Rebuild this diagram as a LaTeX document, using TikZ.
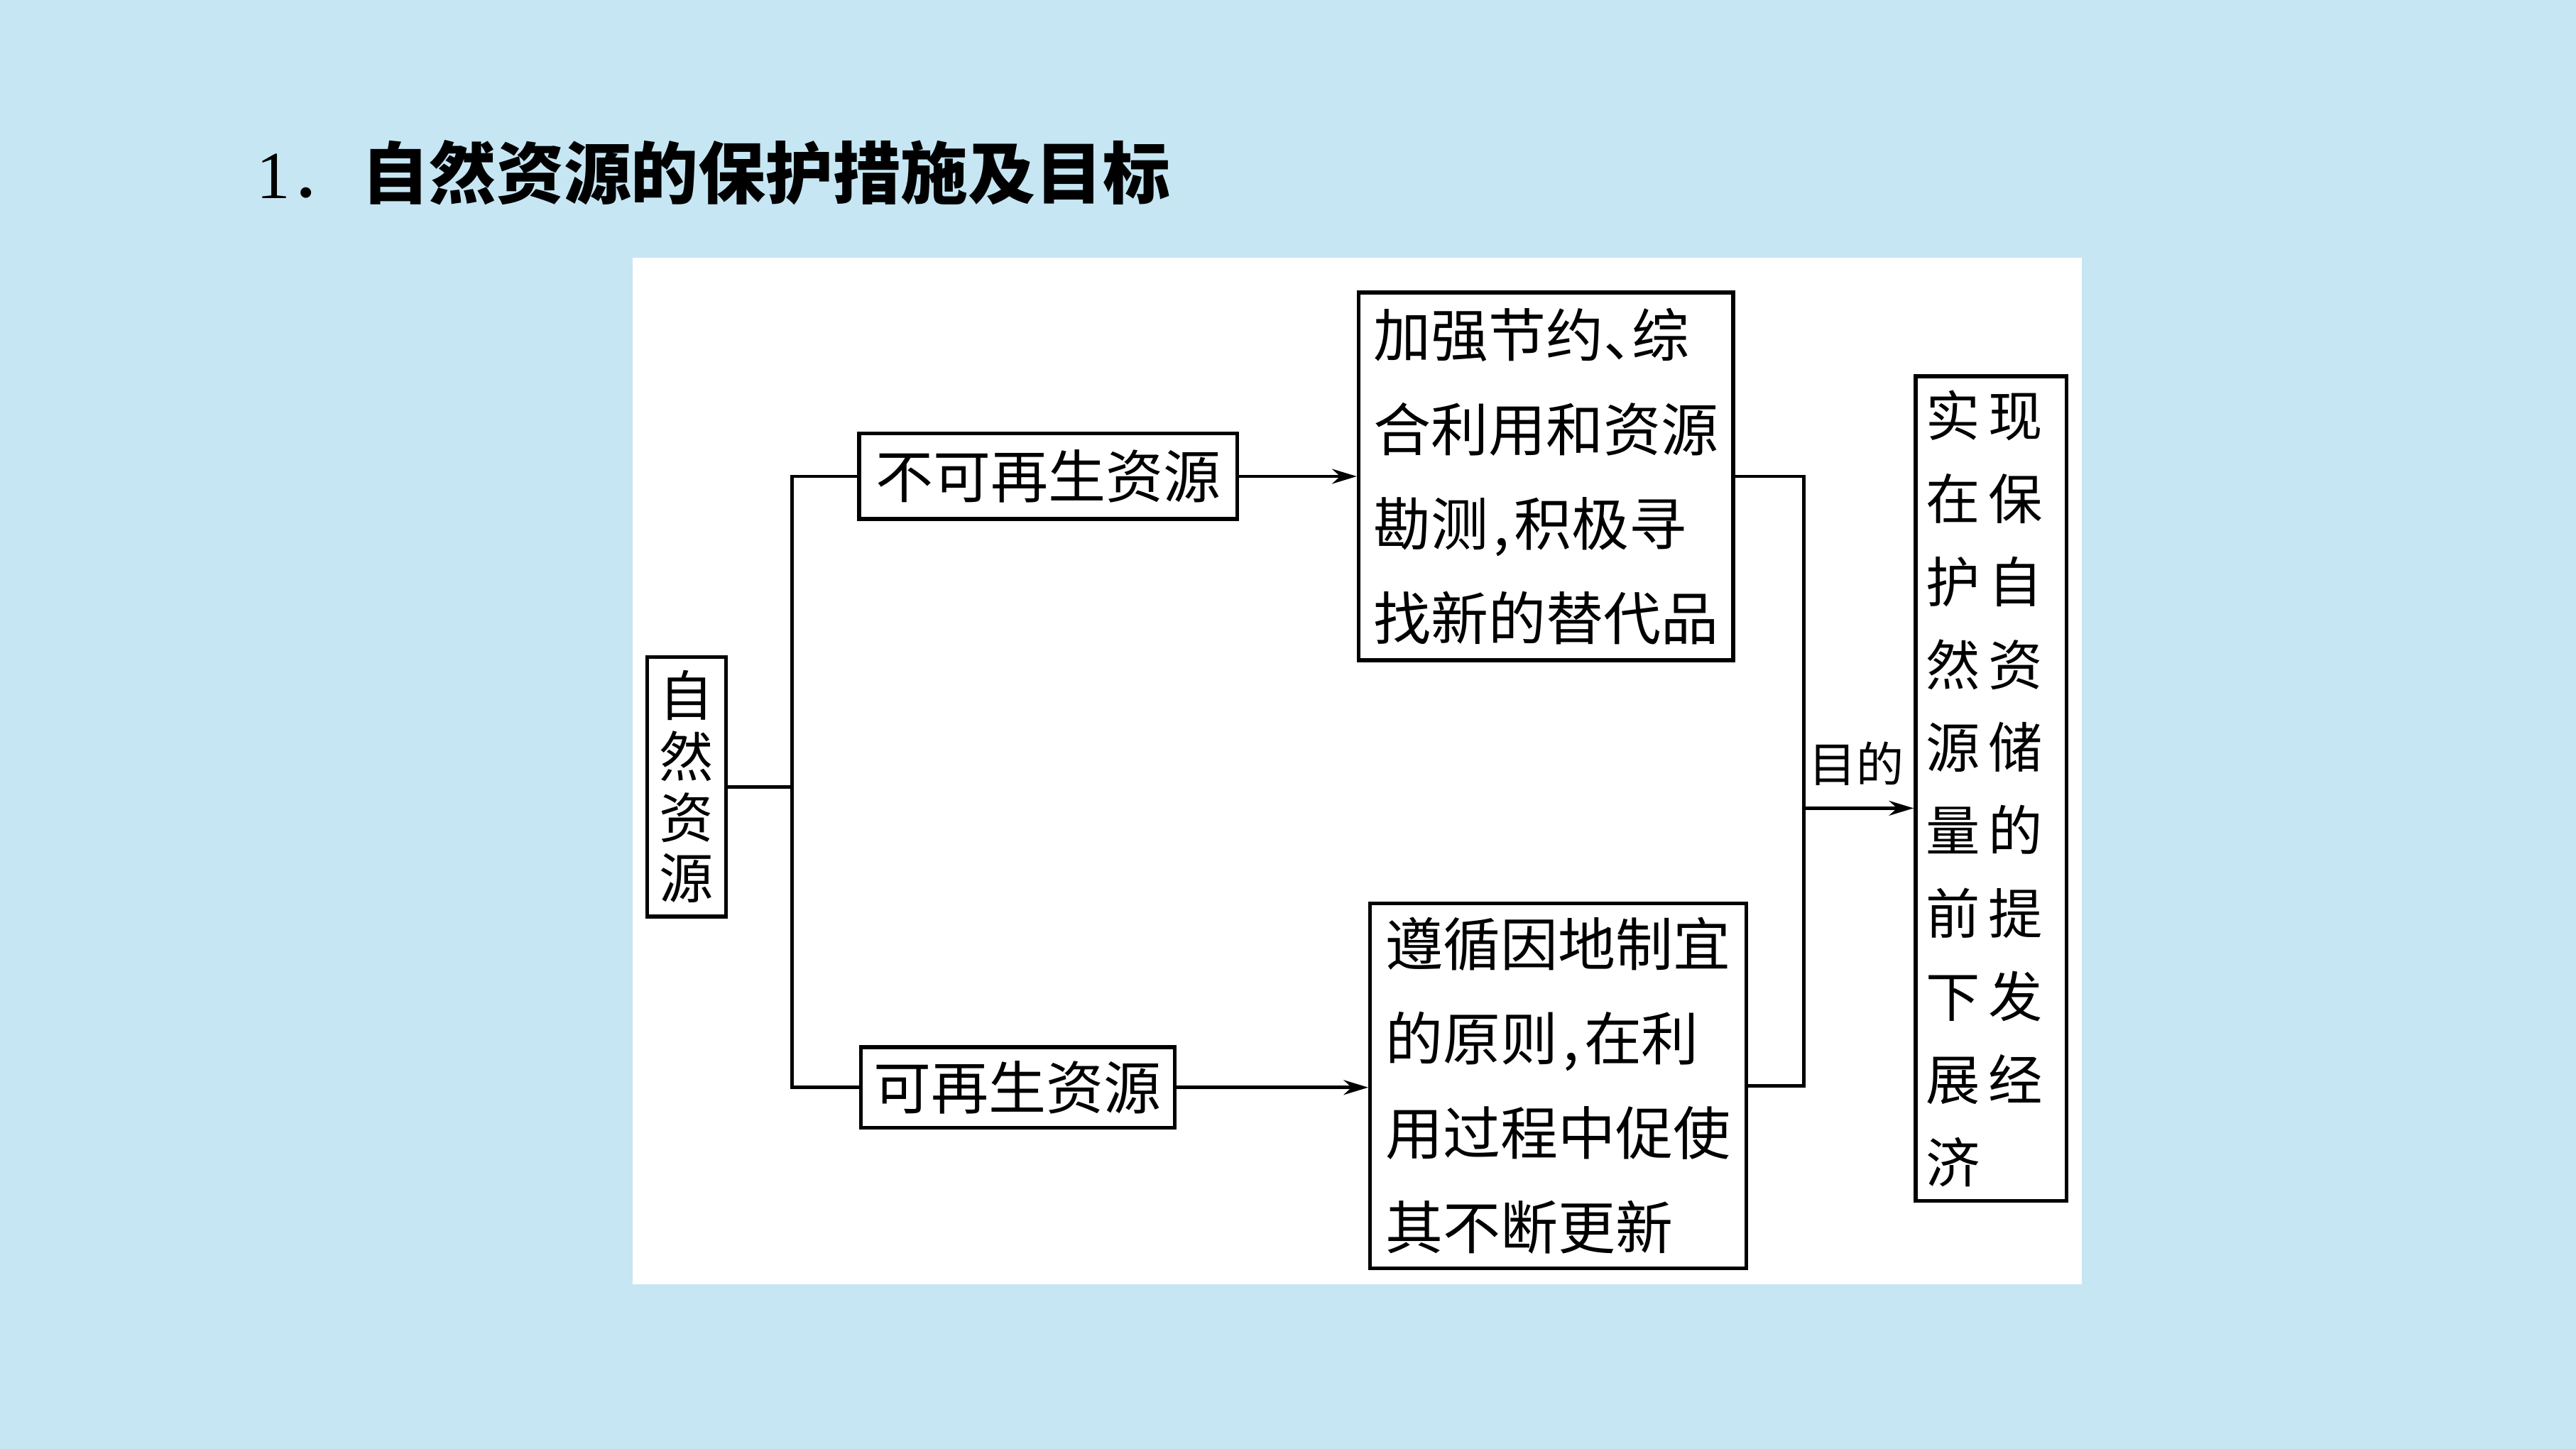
\documentclass[tikz,border=0pt]{standalone}
\usepackage{fontspec}
\setmainfont{Liberation Serif}
\newfontfamily\cjk{Noto Sans CJK SC}
\usetikzlibrary{arrows.meta}
\definecolor{bgblue}{RGB}{198,230,243}
\newcommand\gp{\hspace{5pt}}
\begin{document}
\begin{tikzpicture}[x=1pt,y=-1pt,
  box/.style={draw=black,line width=2.3pt,fill=white,inner sep=0pt},
  conn/.style={line width=2pt},
  arr/.style={line width=2pt,-{Stealth[length=15pt,width=9pt]}},
  txt/.style={font={\cjk\fontsize{35}{57.5}\selectfont}}]
\fill[bgblue] (0,0) rectangle (1568,882);
\useasboundingbox (0,0) rectangle (1568,882);
\fill[white] (385,157) rectangle (1267,782);
\node[anchor=west,inner sep=0pt,font={\cjk\fontsize{41}{48}\selectfont}] (title) at (156,105) {{\rmfamily 1}．\hspace{2.5pt}\bfseries 自然资源的保护措施及目标};
% boxes
\node[box,minimum width=48pt,minimum height=158pt,align=center,font={\cjk\fontsize{33}{37}\selectfont}] (zr) at (418,479) {自\\然\\资\\源};
\node[box,txt,minimum width=230pt,minimum height=52pt] (nr) at (638,290) {不可再生资源};
\node[box,txt,minimum width=191pt,minimum height=49pt] (r) at (619.5,662) {可再生资源};
\node[box,txt,minimum width=228pt,minimum height=224pt,align=left] (tb) at (941,290) {加强节约\makebox[0.5em][l]{、}综\\合利用和资源\\勘测\makebox[0.45em][c]{,}积极寻\\找新的替代品};
\node[box,txt,minimum width=229pt,minimum height=222pt,align=left] (bb) at (948.5,661) {遵循因地制宜\\的原则\makebox[0.45em][c]{,}在利\\用过程中促使\\其不断更新};
\node[box,minimum width=92pt,minimum height=502pt,align=left,font={\cjk\fontsize{33}{50.5}\selectfont}] (gb) at (1212,480) {实\gp 现\hspace*{8pt}\\在\gp 保\\护\gp 自\\然\gp 资\\源\gp 储\\量\gp 的\\前\gp 提\\下\gp 发\\展\gp 经\\济};
% connectors
\coordinate (jl) at (482,477);
\draw[conn] (zr.east) -- (zr.east -| jl);
\draw[conn] (nr.west) -| (r.west -| jl) -- (r.west);
\draw[arr] (nr.east) -- (nr.east -| tb.west);
\draw[arr] (r.east) -- (r.east -| bb.west);
\coordinate (jr) at (1098,492);
\draw[conn] (tb.east) -| (jr) |- (bb.east);
\draw[arr] (jr) -- (jr -| gb.west);
\node[inner sep=0pt,font={\cjk\fontsize{29}{34}\selectfont}] (mudi) at (1130,465) {目的};
\end{tikzpicture}
\end{document}
